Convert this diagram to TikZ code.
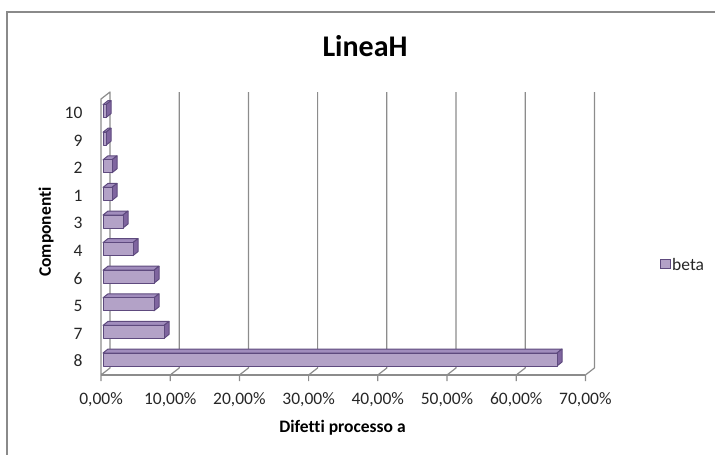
\documentclass[tikz,border=0pt]{standalone}
\usepackage{fontspec}
\setmainfont{Carlito}[Ligatures=NoCommon]
\definecolor{gridgray}{HTML}{8C8C8C}
\definecolor{framegray}{HTML}{8A8A8A}
\definecolor{barfront}{HTML}{B3A2C7}
\definecolor{bartop}{HTML}{A18DBD}
\definecolor{barside}{HTML}{7F659F}
\definecolor{baredge}{HTML}{5E4A7E}
\tikzset{
  frameline/.style={draw=framegray, line width=1.6pt},
  gridline/.style={draw=gridgray, line width=1.2pt, line join=round},
  barface/.style={draw=baredge, line width=1pt, line join=round},
  ticklabel/.style={font=\fontsize{17.5}{20}\selectfont, text=black!85},
  catlabel/.style={font=\fontsize{17.5}{20}\selectfont, text=black!85, anchor=east},
  axistitle/.style={font=\fontsize{17.5}{20}\selectfont\bfseries},
  charttitle/.style={font=\fontsize{30}{34}\selectfont\bfseries},
}
\begin{document}
\begin{tikzpicture}[x=1pt, y=-1pt]
\useasboundingbox (0,0) rectangle (715,455);

% outer chart frame (left and top edges)
\draw[frameline] (7,455) -- (7,12) -- (715,12);

% title
\node[charttitle] (title) at (365,46) {LineaH};

% left wall and floor front edge
\draw[gridline] (101,381) -- (101,99) -- (110,92) -- (110,368) -- (101,375);
\draw[gridline] (101,375) -- (585.4,375);

% vertical gridlines with floor ticks and percentage labels
\foreach \p/\txt in {0/0,1/10,2/20,3/30,4/40,5/50,6/60,7/70} {
  \pgfmathsetmacro\xx{101+69.2*\p}
  \ifnum\p>0
    \draw[gridline] (\xx+9,92) -- (\xx+9,368) -- (\xx,375) -- (\xx,381);
  \fi
  \node[ticklabel] (tick\p) at (\xx,400) {\txt,00\%};
}

% bars: index / category / right end of front face
\foreach \i/\lab/\ex in {0/8/557, 1/7/164, 2/5/154, 3/6/154, 4/4/133,
                         5/3/123, 6/1/112, 7/2/112, 8/9/106, 9/10/106} {
  \pgfmathsetmacro\yc{359.5-27.6*\i}
  \pgfmathsetmacro\ly{361-27.56*\i}
  \node[catlabel] (cat\lab) at (86,\ly) {\lab};
  \filldraw[barface, fill=bartop]
    (103,\yc-6.5) -- (108,\yc-10.5) -- (\ex+5,\yc-10.5) -- (\ex,\yc-6.5) -- cycle;
  \filldraw[barface, fill=barside]
    (\ex,\yc-6.5) -- (\ex+5,\yc-10.5) -- (\ex+5,\yc+2.5) -- (\ex,\yc+6.5) -- cycle;
  \filldraw[barface, fill=barfront] (103,\yc-6.5) rectangle (\ex,\yc+6.5);
}

% axis titles
\node[axistitle] (xtitle) at (342.5,428) {Difetti processo a};
\node[axistitle, rotate=90] (ytitle) at (46,232) {Componenti};

% legend
\filldraw[draw=baredge, fill=barfront, line width=1pt] (660.5,259) rectangle (670,268.5);
\node[ticklabel, anchor=west, inner sep=0pt] (legend) at (672,264) {beta};
\end{tikzpicture}
\end{document}
